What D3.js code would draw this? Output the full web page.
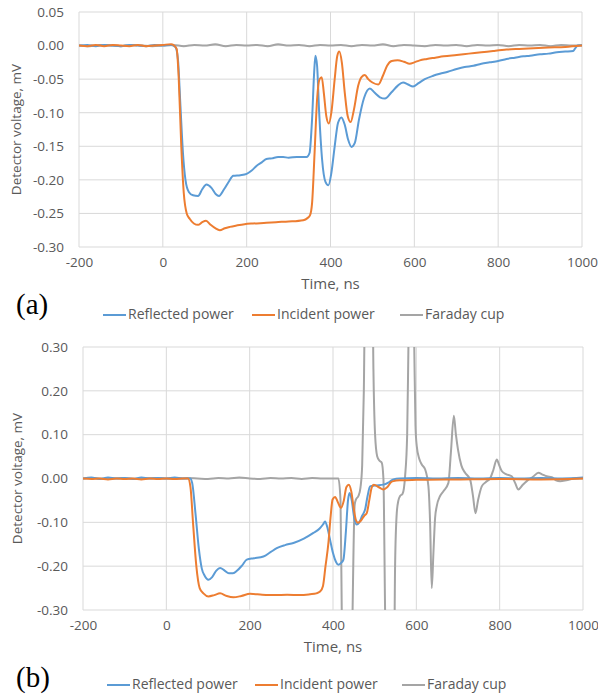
<!DOCTYPE html>
<html>
<head>
<meta charset="utf-8">
<script src="https://cdn.jsdelivr.net/npm/d3@7"></script>
<style>
  body { margin: 0; background: #fff; }
  text { font-family: "Open Sans", sans-serif; fill: #595959; }
</style>
</head>
<body>
<div id="chart"></div>
<script>
/* CONSTANTS AND GLOBALS */
const width = 598,
  height = 696;

const colors = { reflected: "#5B9BD5", incident: "#ED7D31", faraday: "#A5A5A5" };
const seriesNames = ["Reflected power", "Incident power", "Faraday cup"];

const xTicks = [-200, 0, 200, 400, 600, 800, 1000];
const yTicksA = [0.05, 0, -0.05, -0.10, -0.15, -0.20, -0.25, -0.30];
const yTicksB = [0.30, 0.20, 0.10, 0, -0.10, -0.20, -0.30];

/* DATA - panel (a), [time ns, voltage mV] */
const reflectedA = [[-200,0],[-180,0.001],[-160,-0.001],[-140,0.001],[-120,0],[-100,-0.001],[-80,0.001],[-60,0],[-40,-0.001],[-20,0.001],[0,0],[20,0.001],[30,-0.002],[36,-0.02],[42,-0.09],[48,-0.16],[54,-0.2],[62,-0.218],[72,-0.223],[84,-0.224],[94,-0.214],[104,-0.207],[116,-0.212],[126,-0.221],[134,-0.224],[146,-0.214],[158,-0.202],[168,-0.194],[185,-0.193],[200,-0.191],[212,-0.186],[224,-0.179],[236,-0.174],[247,-0.169],[260,-0.168],[275,-0.166],[287,-0.166],[300,-0.167],[320,-0.166],[343,-0.166],[350,-0.160],[356,-0.11],[361,-0.04],[364,-0.015],[368,-0.03],[373,-0.1],[380,-0.17],[388,-0.203],[395,-0.208],[402,-0.19],[410,-0.15],[418,-0.115],[426,-0.107],[434,-0.118],[442,-0.14],[450,-0.151],[458,-0.145],[468,-0.11],[480,-0.078],[494,-0.064],[505,-0.07],[518,-0.077],[530,-0.079],[545,-0.07],[560,-0.06],[573,-0.055],[585,-0.058],[597,-0.061],[610,-0.056],[625,-0.05],[645,-0.045],[661,-0.042],[680,-0.039],[701,-0.035],[720,-0.032],[741,-0.030],[760,-0.027],[780,-0.025],[800,-0.023],[820,-0.020],[840,-0.018],[860,-0.016],[876,-0.015],[900,-0.013],[920,-0.012],[940,-0.010],[960,-0.009],[979,-0.008],[985,-0.003],[990,0],[1000,0]];

const incidentA = [[-200,0],[-180,-0.001],[-160,0.001],[-140,-0.001],[-120,0.001],[-100,0],[-80,-0.001],[-60,0.001],[-40,-0.001],[-20,0],[0,0.001],[20,0.002],[25,0.001],[33,-0.005],[38,-0.05],[44,-0.15],[50,-0.22],[57,-0.25],[64,-0.258],[74,-0.265],[84,-0.267],[94,-0.263],[103,-0.261],[114,-0.267],[125,-0.272],[136,-0.275],[148,-0.272],[160,-0.27],[176,-0.268],[195,-0.266],[215,-0.265],[247,-0.264],[270,-0.263],[300,-0.262],[335,-0.260],[345,-0.257],[351,-0.253],[356,-0.235],[362,-0.16],[368,-0.08],[374,-0.05],[379,-0.047],[384,-0.07],[390,-0.105],[396,-0.116],[402,-0.10],[410,-0.05],[416,-0.016],[421,-0.009],[427,-0.025],[434,-0.07],[441,-0.105],[448,-0.114],[456,-0.095],[466,-0.06],[474,-0.047],[482,-0.044],[490,-0.050],[500,-0.055],[514,-0.058],[525,-0.045],[535,-0.030],[546,-0.023],[560,-0.022],[575,-0.024],[589,-0.027],[600,-0.025],[613,-0.022],[630,-0.020],[650,-0.018],[670,-0.016],[701,-0.014],[730,-0.012],[760,-0.010],[788,-0.008],[820,-0.006],[850,-0.005],[884,-0.004],[920,-0.003],[960,-0.002],[1000,0]];

const faradayA = [[-200,0],[-175,-0.001],[-150,0.001],[-125,0],[-100,-0.001],[-75,0.001],[-50,0],[-25,-0.001],[0,0],[25,0.001],[50,-0.001],[75,0.001],[100,0],[125,0.002],[150,-0.001],[175,0.001],[200,0],[225,0.001],[250,-0.001],[275,0.002],[300,0],[325,0.001],[350,-0.001],[375,0.001],[400,0],[425,0.001],[450,-0.001],[475,0.001],[500,0],[525,0.002],[550,-0.001],[575,0.001],[600,0],[625,-0.001],[650,0.001],[675,0],[700,0.001],[725,-0.001],[750,0.001],[775,0],[800,0.001],[825,-0.001],[850,0.001],[875,0],[900,0.001],[925,-0.001],[950,0.001],[975,0],[1000,0.001]];

/* DATA - panel (b) */
const reflectedB = [[-200,0],[-180,0.002],[-160,-0.001],[-140,0.002],[-120,0],[-100,0.001],[-80,-0.001],[-60,0.002],[-40,0],[-20,0.001],[0,0],[20,0.002],[40,0],[57,0],[62,-0.01],[70,-0.08],[78,-0.16],[85,-0.205],[92,-0.222],[101,-0.231],[110,-0.225],[120,-0.21],[129,-0.204],[140,-0.21],[150,-0.216],[160,-0.216],[170,-0.21],[182,-0.198],[193,-0.185],[210,-0.182],[233,-0.178],[250,-0.168],[265,-0.159],[285,-0.152],[305,-0.147],[330,-0.137],[353,-0.124],[368,-0.114],[376,-0.105],[381,-0.098],[386,-0.11],[393,-0.14],[400,-0.17],[407,-0.19],[413,-0.197],[419,-0.193],[425,-0.185],[431,-0.12],[436,-0.05],[440,-0.033],[445,-0.05],[451,-0.09],[457,-0.105],[463,-0.1],[470,-0.085],[477,-0.071],[483,-0.04],[489,-0.018],[500,-0.016],[521,-0.014],[535,-0.008],[545,-0.002],[560,0],[600,0.001],[650,0],[700,0.001],[750,0],[800,0.001],[850,0],[900,0.001],[950,0],[1000,0.002]];

const incidentB = [[-200,0],[-180,-0.001],[-160,0],[-140,-0.002],[-120,0],[-100,-0.001],[-80,0],[-60,-0.002],[-40,0],[-20,-0.001],[0,0],[20,-0.001],[40,0],[52,0],[58,-0.02],[64,-0.1],[72,-0.2],[80,-0.25],[89,-0.262],[101,-0.269],[115,-0.266],[129,-0.262],[145,-0.268],[161,-0.271],[180,-0.268],[201,-0.263],[230,-0.265],[260,-0.266],[290,-0.265],[321,-0.266],[345,-0.264],[360,-0.262],[369,-0.258],[376,-0.245],[382,-0.2],[389,-0.147],[394,-0.09],[399,-0.048],[405,-0.042],[412,-0.055],[419,-0.067],[426,-0.05],[432,-0.02],[438,-0.014],[444,-0.03],[450,-0.07],[455,-0.095],[460,-0.101],[468,-0.095],[475,-0.085],[481,-0.079],[487,-0.05],[493,-0.02],[498,-0.014],[510,-0.02],[521,-0.025],[530,-0.02],[540,-0.008],[545,-0.006],[560,-0.004],[600,-0.003],[700,-0.002],[800,-0.001],[900,-0.002],[1000,0]];

const faradayB = [[-200,0],[-175,0.001],[-150,-0.001],[-125,0],[-100,0.001],[-75,-0.001],[-50,0],[-25,0.001],[0,0],[25,-0.001],[50,0.001],[75,0],[100,-0.001],[125,0.001],[150,0],[175,0.002],[200,0],[225,-0.001],[250,0.001],[275,0],[300,0.001],[325,-0.001],[350,0.001],[375,0],[400,0],[413,0],[418,-0.05],[421,-0.3],[424,-0.5],[444,-0.5],[447,-0.3],[452,-0.06],[455,-0.048],[461,-0.040],[466,-0.02],[470,0.03],[474,0.2],[478,0.5],[494,0.5],[497,0.25],[501,0.1],[506,0.051],[512,0.04],[517,0.036],[521,0.0],[525,-0.3],[528,-0.5],[546,-0.5],[549,-0.2],[553,-0.079],[557,-0.05],[561,-0.040],[567,-0.035],[573,0.005],[578,0.1],[581,0.3],[584,0.5],[592,0.5],[595,0.3],[598,0.12],[601,0.074],[607,0.045],[613,0.032],[621,0.021],[629,-0.018],[633,-0.1],[637,-0.25],[641,-0.17],[645,-0.09],[649,-0.063],[657,-0.04],[665,-0.029],[677,-0.010],[683,0.06],[690,0.143],[695,0.1],[700,0.066],[708,0.03],[717,0.013],[729,-0.002],[736,-0.04],[742,-0.079],[748,-0.05],[757,-0.018],[767,-0.008],[777,0],[785,0.02],[793,0.0435],[799,0.03],[805,0.017],[815,0.01],[829,0.005],[837,-0.01],[845,-0.025],[855,-0.015],[865,-0.006],[880,0.004],[893,0.013],[903,0.009],[913,0.005],[925,0.003],[935,-0.004],[945,-0.006],[960,-0.004],[980,0],[1000,0]];

/* PANEL SETUP */
const panels = [
  { id: "a", label: "(a)", left: 79, right: 582, top: 12, bottom: 247, yDomain: [-0.30, 0.05], yTicks: yTicksA,
    series: [reflectedA, incidentA, faradayA], labelY: 314, legendY: 315, legendX: [103, 252, 400], titleX: 17 },
  { id: "b", label: "(b)", left: 83, right: 583, top: 347, bottom: 610, yDomain: [-0.30, 0.30], yTicks: yTicksB,
    series: [reflectedB, incidentB, faradayB], labelY: 687, legendY: 685, legendX: [107, 255, 402], titleX: 18 },
];

const svg = d3.select("#chart")
  .append("svg")
  .attr("width", width)
  .attr("height", height);

panels.forEach(p => drawPanel(p));

function drawPanel(p) {
  const xScale = d3.scaleLinear().domain([-200, 1000]).range([p.left, p.right]);
  const yScale = d3.scaleLinear().domain(p.yDomain).range([p.bottom, p.top]);
  const g = svg.append("g").attr("class", "panel-" + p.id);

  // gridlines
  g.selectAll("line.hgrid")
    .data(p.yTicks)
    .join("line")
    .attr("class", "hgrid")
    .attr("x1", p.left).attr("x2", p.right)
    .attr("y1", d => yScale(d)).attr("y2", d => yScale(d))
    .attr("stroke", "#d9d9d9").attr("stroke-width", 1);

  g.selectAll("line.vgrid")
    .data(xTicks)
    .join("line")
    .attr("class", "vgrid")
    .attr("x1", d => xScale(d)).attr("x2", d => xScale(d))
    .attr("y1", p.top).attr("y2", p.bottom)
    .attr("stroke", "#d9d9d9").attr("stroke-width", 1);

  // axes (labels only, Excel style)
  const yAxis = d3.axisLeft(yScale)
    .tickValues(p.yTicks)
    .tickFormat(d => d.toFixed(2))
    .tickSize(0).tickPadding(15);
  const yAxisGroup = g.append("g")
    .attr("transform", `translate(${p.left}, 0)`)
    .call(yAxis);

  const xAxis = d3.axisBottom(xScale)
    .tickValues(xTicks)
    .tickFormat(d => String(d))
    .tickSize(0).tickPadding(10);
  const xAxisGroup = g.append("g")
    .attr("transform", `translate(0, ${p.bottom})`)
    .call(xAxis);

  [yAxisGroup, xAxisGroup].forEach(ax => {
    ax.select(".domain").remove();
    ax.selectAll("text").attr("font-size", 13.5).attr("fill", "#595959")
      .attr("font-family", "'Open Sans', sans-serif");
  });

  // axis titles
  g.append("text")
    .attr("x", (p.left + p.right) / 2)
    .attr("y", p.bottom + 42)
    .attr("text-anchor", "middle")
    .attr("font-size", 15)
    .text("Time, ns");

  g.append("text")
    .attr("transform", `translate(${p.titleX}, ${(p.top + p.bottom) / 2}) rotate(-90)`)
    .attr("text-anchor", "middle")
    .attr("dominant-baseline", "middle")
    .attr("font-size", 13.5)
    .text("Detector voltage, mV");

  // clip lines to plot area
  svg.append("clipPath")
    .attr("id", "clip-" + p.id)
    .append("rect")
    .attr("x", p.left).attr("y", p.top)
    .attr("width", p.right - p.left).attr("height", p.bottom - p.top);

  const lineGen = d3.line()
    .x(d => xScale(d[0]))
    .y(d => yScale(d[1]))
    .curve(d3.curveMonotoneX);

  const lineColors = [colors.reflected, colors.incident, colors.faraday];
  // faraday drawn first so it sits under the others
  g.append("g")
    .attr("clip-path", `url(#clip-${p.id})`)
    .selectAll("path.line")
    .data([2, 0, 1])
    .join("path")
    .attr("class", "line")
    .attr("d", i => lineGen(p.series[i]))
    .attr("fill", "none")
    .attr("stroke", i => lineColors[i])
    .attr("stroke-width", 2)
    .attr("stroke-linejoin", "round");

  // panel label (serif, black)
  g.append("text")
    .attr("x", 16)
    .attr("y", p.labelY)
    .attr("font-size", 29)
    .style("font-family", "'Liberation Serif', 'Times New Roman', serif")
    .style("fill", "#000")
    .text(p.label);

  // legend
  const legend = g.selectAll("g.legend")
    .data(seriesNames)
    .join("g")
    .attr("class", "legend")
    .attr("transform", (d, i) => `translate(${p.legendX[i]}, ${p.legendY})`);

  legend.append("line")
    .attr("x1", 0).attr("x2", 23)
    .attr("stroke", (d, i) => lineColors[i])
    .attr("stroke-width", 2);

  legend.append("text")
    .attr("x", 25)
    .attr("dominant-baseline", "middle")
    .attr("font-size", 14)
    .text(d => d);
}
</script>
</body>
</html>
